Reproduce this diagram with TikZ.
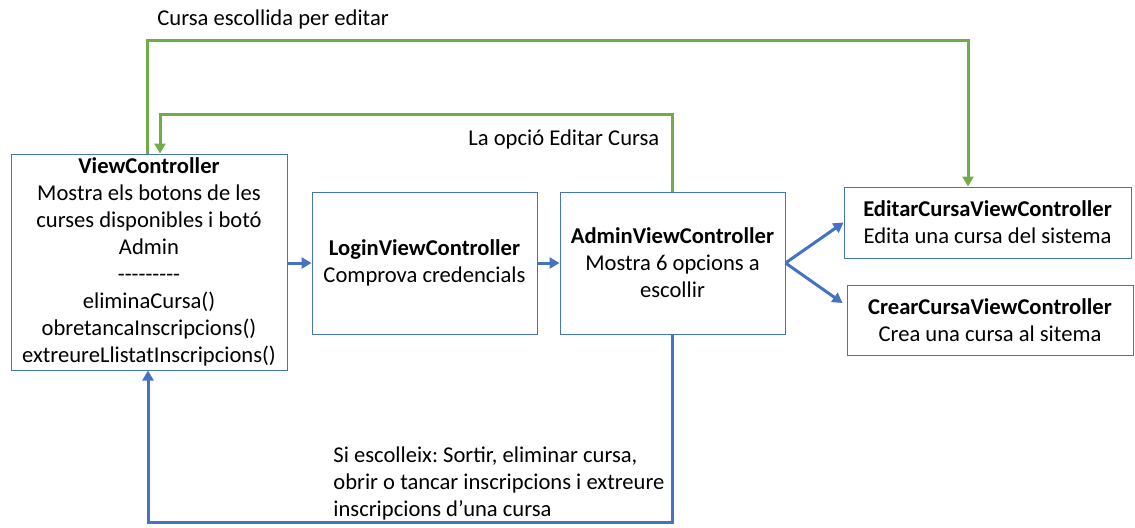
\documentclass[tikz,border=0pt]{standalone}
\usepackage{fontspec}
\setmainfont{Carlito}
\usetikzlibrary{arrows.meta,calc}
\definecolor{bblue}{HTML}{4472C4}
\definecolor{ggreen}{HTML}{70AD47}
\frenchspacing
\begin{document}
\begin{tikzpicture}[x=0.5pt,y=-0.5pt,
 box/.style={draw=bblue, line width=0.5pt, align=center, inner sep=0pt, font=\fontsize{11.3}{13.5}\selectfont},
 barrow/.style={draw=bblue, line width=1.5pt, -{Triangle[length=5pt,width=5.5pt]}},
 garrow/.style={draw=ggreen, line width=1.5pt, -{Triangle[length=5pt,width=5.5pt]}},
 lbl/.style={font=\fontsize{11.3}{13.5}\selectfont, inner sep=0pt, anchor=west, align=left}]
\useasboundingbox (0,0) rectangle (1135,527);

\node[box, minimum width=138pt, minimum height=108pt] (VC) at (149,262)
  {\textbf{ViewController}\\Mostra els botons de les\\curses disponibles i botó\\Admin\\{-}{-}{-}{-}{-}{-}{-}{-}{-}\\eliminaCursa()\\obretancaInscripcions()\\extreureLlistatInscripcions()};
\node[box, minimum width=112.5pt, minimum height=71pt] (Login) at (424.5,263)
  {\textbf{LoginViewController}\\Comprova credencials};
\node[box, minimum width=112.5pt, minimum height=71pt] (Admin) at (672.5,263)
  {\textbf{AdminViewController}\\Mostra 6 opcions a\\escollir};
\node[box, minimum width=143.5pt, minimum height=35.5pt] (Editar) at (987.5,222.5)
  {\textbf{EditarCursaViewController}\\Edita una cursa del sistema};
\node[box, minimum width=143pt, minimum height=35pt] (Crear) at (990,320)
  {\textbf{CrearCursaViewController}\\Crea una cursa al sitema};

\coordinate (g1) at (147,40);
\coordinate (g2) at (968,40);
\coordinate (g3) at (160,114);
\coordinate (b1) at (148,522);

\draw[garrow] (g1 |- VC.north) -- (g1) -- (g2) -- (g2 |- Editar.north);
\draw[garrow] (Admin.north) |- (g3) -- (g3 |- VC.north);

\draw[barrow] (VC.east |- Login.west) -- (Login.west);
\draw[barrow] (Login.east) -- (Admin.west);
\draw[barrow] (Admin.east) -- (Editar.west);
\draw[barrow] (Admin.east) -- ($(Crear.west)+(-4,-17)$);
\draw[barrow] (Admin.south) |- (b1) -- (b1 |- VC.south);

\node[lbl] (l1) at (157,19) {Cursa escollida per editar};
\node[lbl] (l2) at (468,139) {La opció Editar Cursa};
\node[lbl] (l3) at (333,483) {Si escolleix: Sortir, eliminar cursa,\\obrir o tancar inscripcions i extreure\\inscripcions d’una cursa};
\end{tikzpicture}
\end{document}
